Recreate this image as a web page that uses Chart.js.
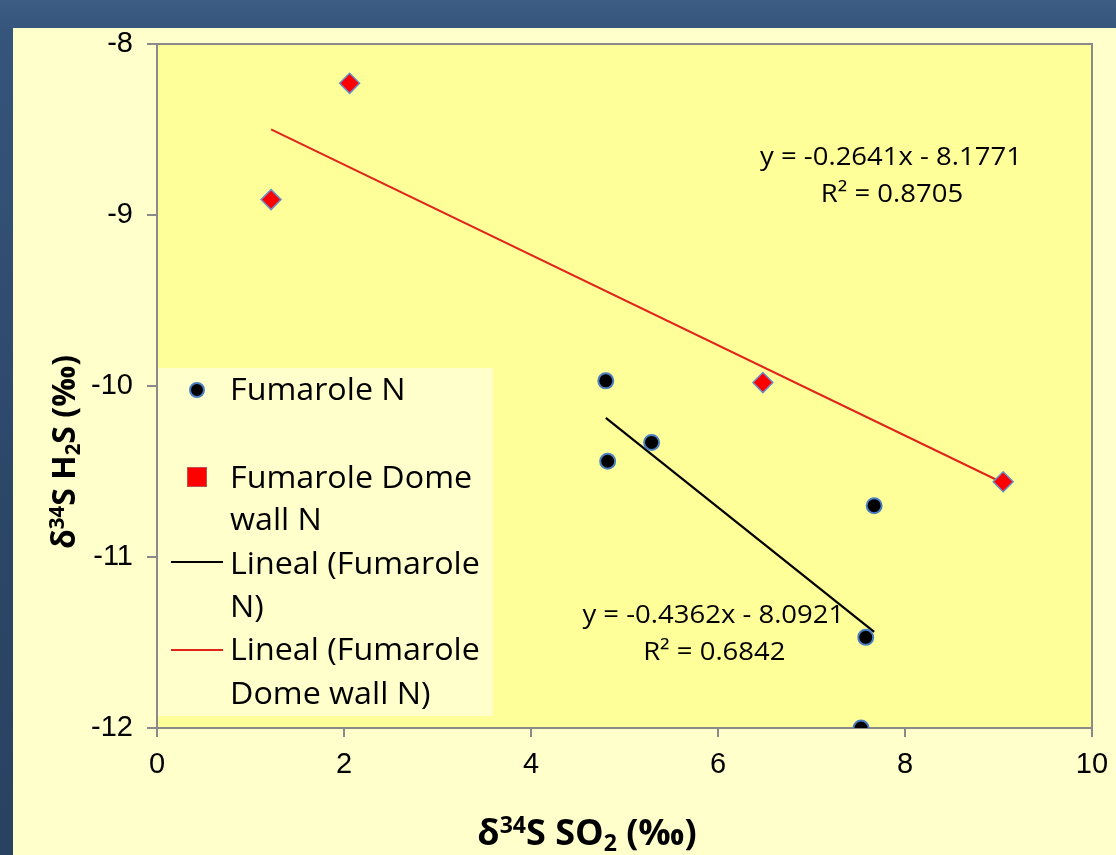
<!DOCTYPE html>
<html>
<head>
<meta charset="utf-8">
<title>δ34S SO2 vs δ34S H2S</title>
<script src="https://cdn.jsdelivr.net/npm/chart.js@4.4.1/dist/chart.umd.min.js"></script>
<style>
  html, body { margin: 0; padding: 0; width: 1116px; height: 855px; overflow: hidden; }
  body { background: linear-gradient(180deg, #3e5d84 0%, #36557c 3.5%, #2c4667 60%, #2a4262 100%); position: relative; }
  #panel { position: absolute; left: 13px; top: 28px; width: 1103px; height: 827px; background: #ffffcc; }
  #panel canvas { position: absolute; left: 0; top: 0; }
</style>
</head>
<body>
<div id="panel"><canvas id="chart" width="1103" height="827"></canvas></div>
<script>
// Fumarole N samples (δ34S SO2, δ34S H2S in ‰)
const fumaroleN_x = [4.80, 4.82, 5.29, 7.67, 7.58, 7.53];
const fumaroleN_y = [-9.97, -10.44, -10.33, -10.70, -11.47, -12.00];

// Fumarole Dome wall N samples
const domeWall_x = [2.06, 1.22, 6.48, 9.05];
const domeWall_y = [-8.23, -8.91, -9.98, -10.56];

// Linear fits: [Fumarole N, Fumarole Dome wall N]
const fitSlope = [-0.4362, -0.2641];
const fitIntercept = [-8.0921, -8.1771];
const fitR2 = [0.6842, 0.8705];

// Axis ticks
const xTicks = [0, 2, 4, 6, 8, 10];
const yTicks = [-8, -9, -10, -11, -12];

// Legend entries
const legendLabels = [
  ['Fumarole N'],
  ['Fumarole Dome', 'wall N'],
  ['Lineal (Fumarole', 'N)'],
  ['Lineal (Fumarole', 'Dome wall N)']
];

const pts = (xs, ys) => xs.map((x, i) => ({ x, y: ys[i] }));
const fitLine = (xs, k) => {
  const lo = Math.min(...xs), hi = Math.max(...xs);
  return [lo, hi].map(x => ({ x, y: fitSlope[k] * x + fitIntercept[k] }));
};
const eqText = k => 'y = ' + fitSlope[k].toFixed(4) + 'x ' + (fitIntercept[k] < 0 ? '- ' : '+ ') + Math.abs(fitIntercept[k]).toFixed(4);
const r2Text = k => 'R² = ' + fitR2[k].toFixed(4);

const AXIS_GREY = '#8a8a8a';
const BLUE_EDGE = '#4a7fc1';
const RED = '#ff0000';
const FIT_RED = '#e2231a';
const TEXT_FONT = '"Open Sans", "Noto Sans", sans-serif';
const TICK_FONT = '"Liberation Sans", Arial, sans-serif';

// Text drawing with optional horizontal stretch
function drawText(ctx, s, x, y, size, weight, align, sx) {
  ctx.save();
  ctx.font = (weight || 'normal') + ' ' + size + 'px ' + TEXT_FONT;
  ctx.fillStyle = '#000';
  ctx.textBaseline = 'alphabetic';
  ctx.textAlign = align || 'left';
  ctx.translate(x, y);
  ctx.scale(sx || 1, 1);
  ctx.fillText(s, 0, 0);
  ctx.restore();
}

// Rich text with superscript / subscript runs, centred on (0,0) baseline
function drawRich(ctx, runs, size) {
  const small = size * 0.64;
  const fontFor = r => 'bold ' + (r.sup || r.sub ? small : size) + 'px ' + TEXT_FONT;
  let total = 0;
  runs.forEach(r => { ctx.font = fontFor(r); total += ctx.measureText(r.t).width; });
  let x = -total / 2;
  ctx.fillStyle = '#000';
  ctx.textBaseline = 'alphabetic';
  ctx.textAlign = 'left';
  runs.forEach(r => {
    ctx.font = fontFor(r);
    const dy = r.sup ? -size * 0.34 : (r.sub ? size * 0.16 : 0);
    ctx.fillText(r.t, x, dy);
    x += ctx.measureText(r.t).width;
  });
}

const xTitleRuns = [{ t: 'δ' }, { t: '34', sup: true }, { t: 'S SO' }, { t: '2', sub: true }, { t: ' (‰)' }];
const yTitleRuns = [{ t: 'δ' }, { t: '34', sup: true }, { t: 'S H' }, { t: '2', sub: true }, { t: 'S (‰)' }];

const plotFrame = {
  id: 'plotFrame',
  beforeDraw(chart) {
    const { ctx, chartArea: a } = chart;
    ctx.save();
    ctx.fillStyle = '#ffff99';
    ctx.fillRect(a.left, a.top, a.right - a.left, a.bottom - a.top);
    ctx.strokeStyle = AXIS_GREY;
    ctx.lineWidth = 2;
    ctx.strokeRect(a.left, a.top, a.right - a.left, a.bottom - a.top);
    ctx.restore();
  }
};

const annotations = {
  id: 'annotations',
  afterDraw(chart) {
    const { ctx, chartArea: a, scales: { x, y } } = chart;

    // Axis titles
    ctx.save();
    ctx.translate(574, 817);
    drawRich(ctx, xTitleRuns, 36);
    ctx.restore();

    ctx.save();
    ctx.translate(62, 424);
    ctx.rotate(-Math.PI / 2);
    drawRich(ctx, yTitleRuns, 32);
    ctx.restore();

    // Fit equations, anchored in data space
    const eqAnchor = [[5.95, -11.333], [7.85, -8.655]];
    eqAnchor.forEach(([ax, ay], k) => {
      const px = x.getPixelForValue(ax);
      const py = y.getPixelForValue(ay);
      drawText(ctx, eqText(k), px, py + 9, 25, 'normal', 'center', 1.1);
      drawText(ctx, r2Text(k), px + 1, py + 46, 25, 'normal', 'center', 1.1);
    });

    // Legend
    const lx = a.left + 1, ly = a.top + 324;
    ctx.save();
    ctx.fillStyle = '#ffffcc';
    ctx.fillRect(lx, ly, 335, 348);

    const tx = lx + 72, fs = 31, capHalf = fs * 0.357;
    // marker: circle
    ctx.beginPath();
    ctx.arc(lx + 39, ly + 22, 7, 0, Math.PI * 2);
    ctx.fillStyle = '#000';
    ctx.fill();
    ctx.lineWidth = 2;
    ctx.strokeStyle = BLUE_EDGE;
    ctx.stroke();
    // marker: square
    ctx.fillStyle = RED;
    ctx.fillRect(lx + 29, ly + 99, 20, 20);
    ctx.strokeStyle = '#c0504d';
    ctx.lineWidth = 1;
    ctx.strokeRect(lx + 29.5, ly + 99.5, 19, 19);
    // marker: fit lines
    ctx.lineWidth = 2;
    ctx.strokeStyle = '#000';
    ctx.beginPath(); ctx.moveTo(lx + 13, ly + 194); ctx.lineTo(lx + 65, ly + 194); ctx.stroke();
    ctx.strokeStyle = FIT_RED;
    ctx.beginPath(); ctx.moveTo(lx + 13, ly + 282); ctx.lineTo(lx + 65, ly + 282); ctx.stroke();
    ctx.restore();

    const rows = [[21], [109, 151], [195, 238], [281, 325]];
    legendLabels.forEach((lines, i) => {
      lines.forEach((s, j) => drawText(ctx, s, tx, ly + rows[i][j] + capHalf, fs, 'normal', 'left', 1.04));
    });
  }
};

new Chart(document.getElementById('chart'), {
  type: 'scatter',
  data: {
    datasets: [
      {
        label: legendLabels[0].join(' '),
        data: pts(fumaroleN_x, fumaroleN_y),
        pointStyle: 'circle',
        pointRadius: 7.5,
        backgroundColor: '#000',
        borderColor: BLUE_EDGE,
        borderWidth: 2,
        order: 1
      },
      {
        label: legendLabels[1].join(' '),
        data: pts(domeWall_x, domeWall_y),
        pointStyle: 'rectRot',
        pointRadius: 10,
        backgroundColor: RED,
        borderColor: '#6a8fc8',
        borderWidth: 1.5,
        order: 1
      },
      {
        type: 'line',
        label: legendLabels[2].join(' '),
        data: fitLine(fumaroleN_x, 0),
        borderColor: '#000',
        borderWidth: 2.2,
        pointRadius: 0,
        fill: false,
        order: 2
      },
      {
        type: 'line',
        label: legendLabels[3].join(' '),
        data: fitLine(domeWall_x, 1),
        borderColor: FIT_RED,
        borderWidth: 2,
        pointRadius: 0,
        fill: false,
        order: 2
      }
    ]
  },
  options: {
    responsive: false,
    animation: false,
    devicePixelRatio: 1,
    layout: { padding: { top: 16, right: 24, bottom: 0, left: 0 } },
    plugins: {
      legend: { display: false },
      tooltip: { enabled: false }
    },
    scales: {
      x: {
        type: 'linear',
        position: 'bottom',
        min: 0, max: 10,
        afterBuildTicks: s => { s.ticks = xTicks.map(v => ({ value: v })); },
        afterFit: s => { s.height = 127; s.paddingLeft = 0; s.paddingRight = 0; },
        ticks: { color: '#000', padding: 13, font: { family: TICK_FONT, size: 29, lineHeight: 1 } },
        grid: { drawOnChartArea: false, drawTicks: true, tickLength: 9, color: AXIS_GREY, lineWidth: 2 },
        border: { color: AXIS_GREY, width: 2 }
      },
      y: {
        type: 'linear',
        position: 'left',
        min: -12, max: -8,
        afterBuildTicks: s => { s.ticks = yTicks.map(v => ({ value: v })); },
        afterFit: s => { s.width = 144; s.paddingTop = 0; s.paddingBottom = 0; },
        ticks: { color: '#000', padding: 14, font: { family: TICK_FONT, size: 29, lineHeight: 1 } },
        grid: { drawOnChartArea: false, drawTicks: true, tickLength: 10, color: AXIS_GREY, lineWidth: 2 },
        border: { color: AXIS_GREY, width: 2 }
      }
    }
  },
  plugins: [plotFrame, annotations]
});
</script>
</body>
</html>
